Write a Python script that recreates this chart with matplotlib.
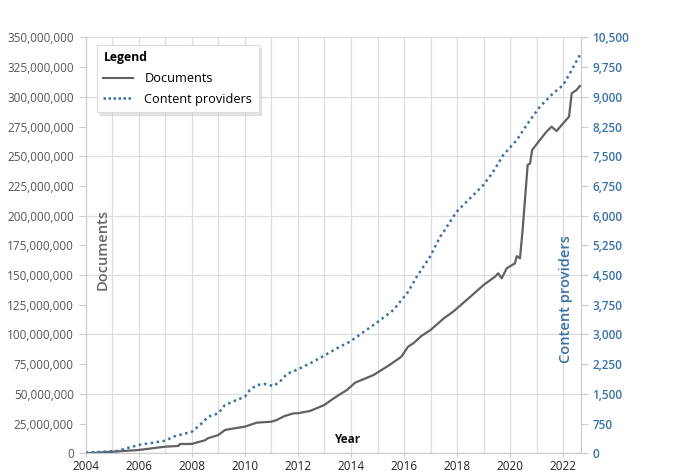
import matplotlib
matplotlib.use("Agg")
import matplotlib.pyplot as plt
from matplotlib.ticker import MultipleLocator, FuncFormatter
from matplotlib.lines import Line2D

plt.rcParams['font.family'] = ['Open Sans', 'DejaVu Sans']

# Documents (millions) by decimal year
doc_years = [2004.0, 2005.0, 2006.0, 2007.0, 2007.5, 2007.55, 2008.0, 2008.5, 2008.6, 2009.0,
             2009.25, 2009.6, 2010.0, 2010.45, 2011.0, 2011.2, 2011.5, 2011.85, 2012.0, 2012.45,
             2012.7, 2013.0, 2013.3, 2013.6, 2013.85, 2014.15, 2014.85, 2015.45, 2015.9, 2016.15,
             2016.35, 2016.65, 2017.0, 2017.5, 2017.85, 2018.5, 2019.0, 2019.43, 2019.55, 2019.68,
             2019.87, 2020.18, 2020.25, 2020.37, 2020.47, 2020.66, 2020.75, 2020.83, 2021.12, 2021.37,
             2021.56, 2021.75, 2022.0, 2022.22, 2022.32, 2022.5, 2022.63]
documents_m = [0, 1.3, 2.8, 5.6, 6.2, 7.8, 7.9, 11, 12.6, 15.4,
               19.6, 21, 22.4, 25.8, 26.6, 28, 31.4, 33.7, 33.7, 35.6,
               37.9, 40.7, 45.5, 49.9, 53.3, 59.4, 65.9, 74.3, 81.3, 89.7,
               92.6, 98.7, 103.8, 113.6, 119.2, 131.8, 141.7, 148.7, 151.5, 147.3,
               155.7, 159.9, 166, 164.1, 188, 242.7, 244, 255.3, 263.7, 270.7,
               274.9, 271.3, 277.8, 283.4, 303, 305.8, 309.2]

# Content providers by decimal year
cp_years = [2004.0, 2005.17, 2006.0, 2007.0, 2007.3, 2008.0, 2008.31, 2008.62, 2009.0, 2009.25,
            2009.69, 2010.0, 2010.19, 2010.45, 2010.76, 2011.07, 2011.32, 2011.58, 2012.0, 2012.58,
            2013.0, 2013.58, 2013.96, 2014.97, 2015.6, 2016.16, 2016.48, 2016.98, 2017.36, 2017.5,
            2017.98, 2018.36, 2018.74, 2018.99, 2019.36, 2019.74, 2020.25, 2020.62, 2021.12, 2021.62,
            2022.0, 2022.25, 2022.63]
content_providers = [15, 58, 210, 318, 419, 545, 715, 924, 1010, 1220,
                     1346, 1429, 1598, 1725, 1750, 1699, 1808, 2002, 2121, 2313,
                     2470, 2692, 2818, 3298, 3618, 4081, 4460, 4964, 5469, 5600,
                     6101, 6353, 6606, 6775, 7110, 7532, 7911, 8290, 8752, 9090,
                     9300, 9595, 10057]

doc_color = '#616161'
cp_color = '#3a72a8'
grid_color = '#dddddd'
axis_color = '#cccccc'

fig = plt.figure(figsize=(6.8, 4.72), dpi=100)
ax = fig.add_axes([0.126, 0.0396, 0.728, 0.881])
ax2 = ax.twinx()

ax.plot(doc_years, [v * 1e6 for v in documents_m], color=doc_color, lw=1.6, zorder=3)
ax2.plot(cp_years, content_providers, color=cp_color, lw=1.8, linestyle=(0, (1, 1.4)), zorder=3)

ax.set_xlim(2004, 2022.66)
ax.set_ylim(0, 350e6)
ax2.set_ylim(0, 10500)

ax.xaxis.set_major_locator(MultipleLocator(2))
ax.xaxis.set_minor_locator(MultipleLocator(1))
ax.yaxis.set_major_locator(MultipleLocator(25e6))
ax2.yaxis.set_major_locator(MultipleLocator(750))
ax.yaxis.set_major_formatter(FuncFormatter(lambda v, p: f"{int(v):,}"))
ax2.yaxis.set_major_formatter(FuncFormatter(lambda v, p: f"{int(v):,}"))

ax.grid(False)
ax.xaxis.grid(True, which='both', color=grid_color, lw=0.9)
for v in range(0, 350000001, 50000000):
    ax.axhline(v, color=grid_color, lw=0.9, zorder=0)
ax.set_axisbelow(True)

for a in (ax, ax2):
    for s in a.spines.values():
        s.set_color(axis_color)
    a.spines['top'].set_visible(False)

ax.tick_params(axis='y', colors=axis_color, labelcolor='#555555', labelsize=8.5, length=5, width=0.8)
ax.tick_params(axis='x', which='major', colors=axis_color, labelcolor='#222222', labelsize=8.5,
               length=3, width=0.8, pad=1.5)
ax.tick_params(axis='x', which='minor', length=0)
ax2.tick_params(axis='y', colors=axis_color, labelcolor=cp_color, labelsize=8.5, length=5, width=0.8)
for lbl in ax2.get_yticklabels():
    lbl.set_fontweight('semibold')

ax.text(0.035, 0.49, 'Documents', transform=ax.transAxes, rotation=90, ha='center', va='center',
        color='#666666', fontsize=10.5, fontweight='semibold')
ax.text(0.971, 0.37, 'Content providers', transform=ax.transAxes, rotation=90, ha='center', va='center',
        color=cp_color, fontsize=10.5, fontweight='semibold')
ax.text(0.528, 0.033, 'Year', transform=ax.transAxes, ha='center', va='center',
        color='#111111', fontsize=8.5, fontweight='bold')

handles = [Line2D([], [], color=doc_color, lw=1.5),
           Line2D([], [], color=cp_color, lw=1.8, linestyle=(0, (1, 1.0)))]
leg = ax2.legend(handles, ['Documents', 'Content providers'], title='Legend', loc='upper left',
                 bbox_to_anchor=(0.023, 0.982), borderaxespad=0, frameon=True, fancybox=False,
                 shadow={'color': '0.8', 'alpha': 0.5, 'ox': 2, 'oy': -2},
                 fontsize=9.2, title_fontproperties={'weight': 'bold', 'size': 8.8},
                 alignment='left', handlelength=2.3, handletextpad=0.9,
                 borderpad=0.5, labelspacing=0.6)
leg.get_frame().set_edgecolor('#dddddd')
leg.get_frame().set_linewidth(0.8)
leg.set_zorder(10)

fig.savefig('out.png', dpi=100)
